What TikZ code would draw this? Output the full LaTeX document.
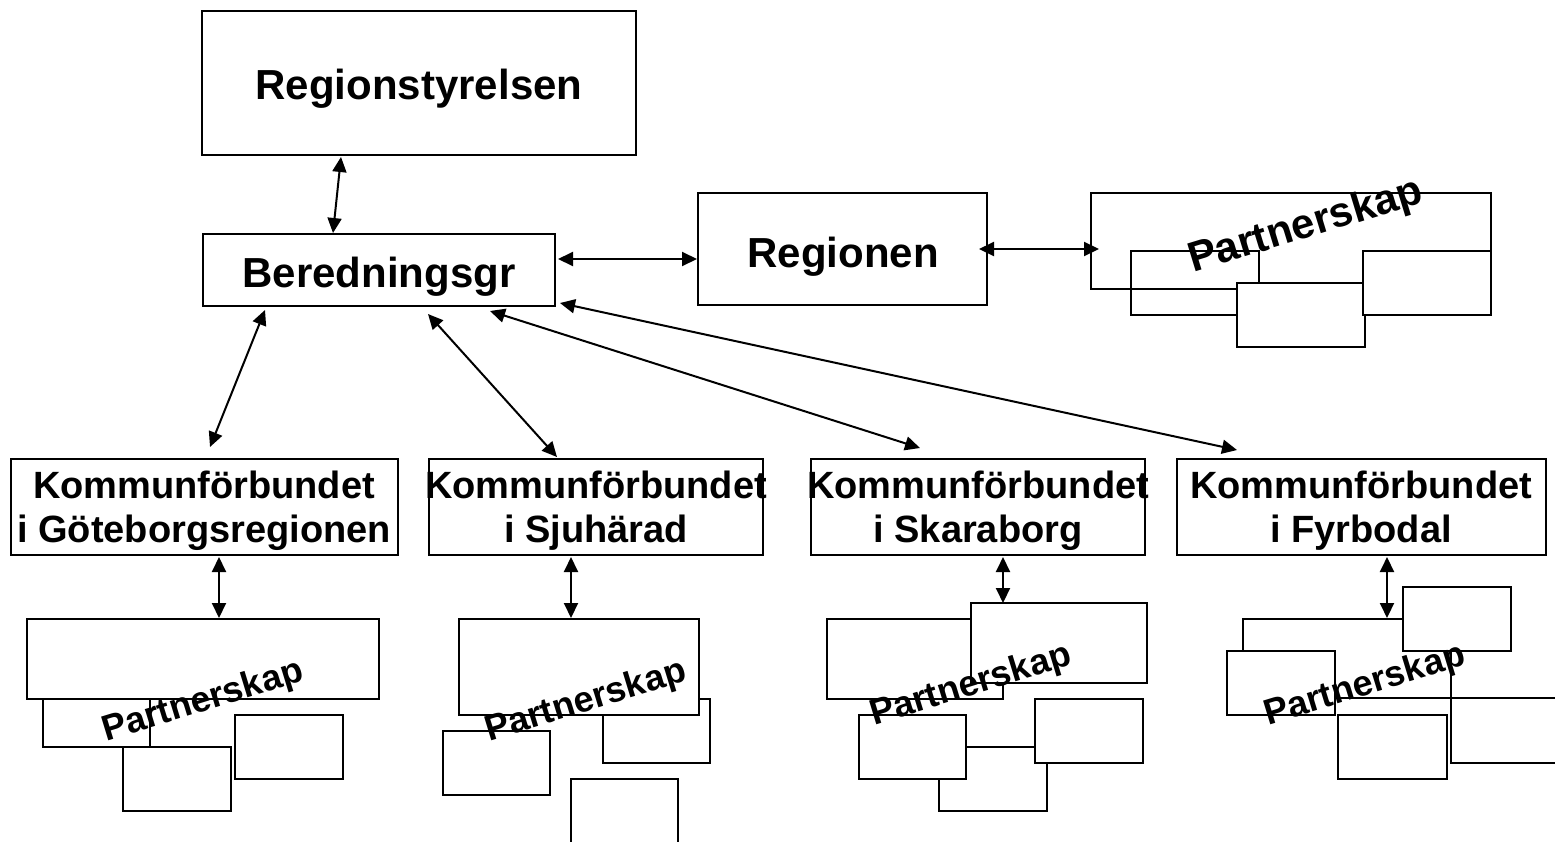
\documentclass[tikz,border=0pt]{standalone}
\usepackage{fontspec}
\setmainfont{Liberation Sans}
\usetikzlibrary{arrows.meta}
\begin{document}
\begin{tikzpicture}[x=1pt,y=-1pt,
  box/.style={draw, line width=2pt, fill=white, inner sep=0pt, outer sep=0pt, anchor=north west},
  part/.style={draw, line width=2pt, fill=white},
  partopen/.style={draw, line width=2pt},
  lbl/.style={font=\fontsize{42}{48}\selectfont\bfseries, anchor=base, inner sep=0pt},
  klbl/.style={font=\fontsize{38}{44}\selectfont\bfseries, anchor=base, inner sep=0pt},
  plbl/.style={font=\fontsize{36}{41}\selectfont\bfseries, inner sep=0pt, rotate=17},
  link/.style={line width=2pt, {Triangle[length=15pt,width=14pt]}-{Triangle[length=15pt,width=14pt]}},
]
\useasboundingbox (0,0) rectangle (1555,841);
\clip (0,0) rectangle (1555,841);

% main boxes
\node[box, minimum width=434pt, minimum height=144pt] (rs) at (202,11) {};
\node[box, minimum width=352pt, minimum height=72pt] (ber) at (203,234) {};
\node[box, minimum width=289pt, minimum height=112pt] (reg) at (698,193) {};
\node[box, minimum width=387pt, minimum height=96pt] (k1) at (11,459) {};
\node[box, minimum width=334pt, minimum height=96pt] (k2) at (429,459) {};
\node[box, minimum width=334pt, minimum height=96pt] (k3) at (811,459) {};
\node[box, minimum width=369pt, minimum height=96pt] (k4) at (1177,459) {};

% partnerskap cluster next to Regionen
\draw[part] (1091,193) rectangle (1491,289);
\draw[partopen] (1131,251) rectangle (1259,315);
\draw[part] (1237,283) rectangle (1365,347);
\draw[part] (1363,251) rectangle (1491,315);

% cluster 1
\draw[part] (43,680) rectangle (150,747);
\draw[part] (27,619) rectangle (379,699);
\draw[part] (123,747) rectangle (231,811);
\draw[part] (235,715) rectangle (343,779);

% cluster 2
\draw[part] (603,699) rectangle (710,763);
\draw[part] (459,619) rectangle (699,715);
\draw[part] (443,731) rectangle (550,795);
\draw[part] (571,779) rectangle (678,860);

% cluster 3
\draw[part] (827,619) rectangle (1003,699);
\draw[part] (971,603) rectangle (1147,683);
\draw[part] (939,747) rectangle (1047,811);
\draw[part] (859,715) rectangle (966,779);
\draw[part] (1035,699) rectangle (1143,763);

% cluster 4
\draw[part] (1243,619) rectangle (1451,698);
\draw[part] (1451,698) rectangle (1580,763);
\draw[part] (1227,651) rectangle (1335,715);
\draw[part] (1403,587) rectangle (1511,651);
\draw[part] (1338,715) rectangle (1447,779);

% connector end points
\coordinate (rsB) at (341,157);  \coordinate (berT) at (333,233);
\coordinate (berR) at (558,259); \coordinate (regL) at (697,259);
\coordinate (regR) at (979,249); \coordinate (p0L) at (1099,249);
\coordinate (b1) at (265,310);   \coordinate (k1T) at (210,447);
\coordinate (b2) at (428,314);   \coordinate (k2T) at (557,457);
\coordinate (b3) at (490,311);   \coordinate (k3T) at (920,448);
\coordinate (b4) at (560,303);   \coordinate (k4T) at (1237,450);
\coordinate (k1B) at (219,557);  \coordinate (p1T) at (219,618);
\coordinate (k2B) at (571,557);  \coordinate (p2T) at (571,618);
\coordinate (k3B) at (1003,557); \coordinate (p3T) at (1003,603);
\coordinate (k4B) at (1387,557); \coordinate (p4T) at (1387,618);

\draw[link] (rsB) -- (berT);
\draw[link] (berR) -- (regL);
\draw[link] (regR) -- (p0L);
\draw[link] (b1) -- (k1T);
\draw[link] (b2) -- (k2T);
\draw[link] (b3) -- (k3T);
\draw[link] (b4) -- (k4T);
\draw[link] (k1B) -- (p1T);
\draw[link] (k2B) -- (p2T);
\draw[link] (k3B) -- (p3T);
\draw[link] (k4B) -- (p4T);

% texts
\node[lbl] (rst) at (419,99) {Regionstyrelsen};
\node[lbl] (bert) at (379,287) {Beredningsgr};
\node[lbl] (regt) at (843,267) {Regionen};
\node[klbl] (k1a) at (204,498) {Kommunförbundet};
\node[klbl] (k1b) at (204,542) {i Göteborgsregionen};
\node[klbl] (k2a) at (596,498) {Kommunförbundet};
\node[klbl] (k2b) at (596,542) {i Sjuhärad};
\node[klbl] (k3a) at (978,498) {Kommunförbundet};
\node[klbl] (k3b) at (978,542) {i Skaraborg};
\node[klbl] (k4a) at (1361,498) {Kommunförbundet};
\node[klbl] (k4b) at (1361,542) {i Fyrbodal};

\node[plbl, font=\fontsize{42}{47}\selectfont\bfseries] (pt0) at (1306,227) {Partnerskap};
\node[plbl] (pt1) at (203,702) {Partnerskap};
\node[plbl] (pt2) at (586,702) {Partnerskap};
\node[plbl] (pt3) at (971,686) {Partnerskap};
\node[plbl] (pt4) at (1365,686) {Partnerskap};
\end{tikzpicture}
\end{document}
